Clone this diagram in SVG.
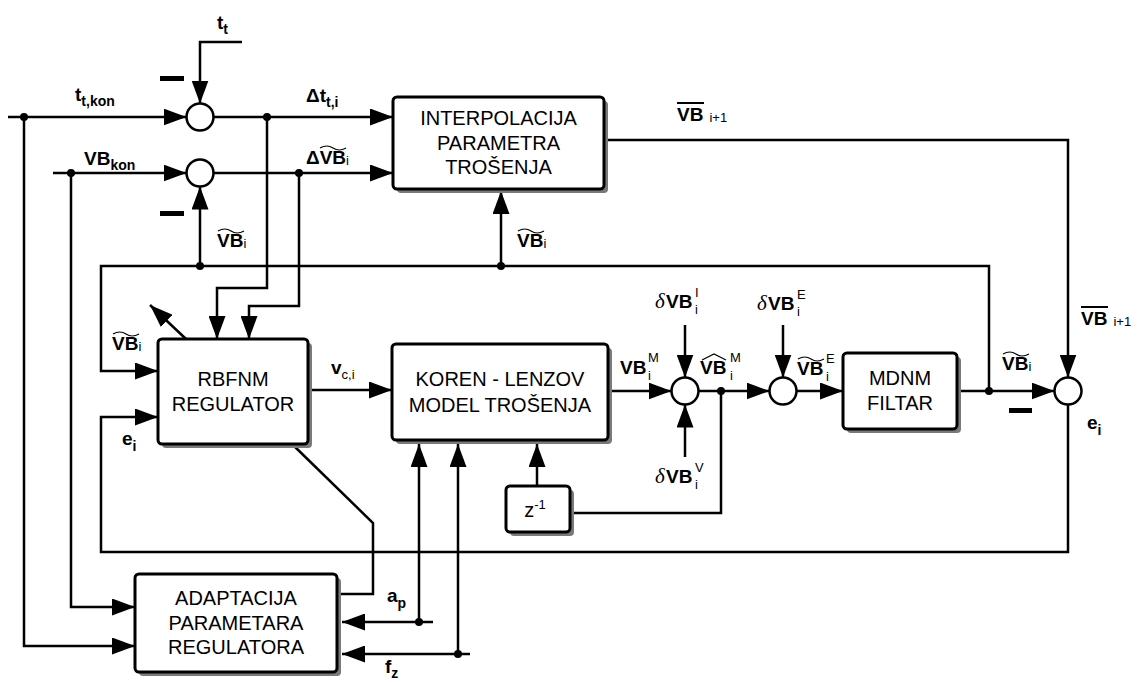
<svg xmlns="http://www.w3.org/2000/svg" width="1141" height="684" viewBox="0 0 1141 684">
<style>
.ln{fill:none;stroke:#000;stroke-width:2.5}
.ar{marker-end:url(#ah)}
.box{fill:#fff;stroke:#000;stroke-width:3}
.sh{fill:#7a7a7a}
.bt{font-family:"Liberation Sans",Arial,sans-serif;font-size:20px;text-anchor:middle;fill:#000}
.lb{font-family:"Liberation Sans",Arial,sans-serif;font-weight:bold;font-size:19px;fill:#000}
.sm{font-family:"Liberation Sans",Arial,sans-serif;font-size:13px;font-weight:normal;fill:#000}
.sb{font-family:"Liberation Sans",Arial,sans-serif;font-size:14px;font-weight:bold;fill:#000}
.acc{fill:none;stroke:#000;stroke-width:1.2}
.dl{font-family:"Liberation Serif","Times New Roman",serif;font-style:italic;font-size:21px;fill:#000}
.dot{fill:#000}
.sum{fill:#fff;stroke:#000;stroke-width:2.5}
</style>
<defs>
<marker id="ah" markerUnits="userSpaceOnUse" markerWidth="23" markerHeight="17" refX="23" refY="8.5" orient="auto"><path d="M0,0 L23,8.5 L0,17 z" fill="#000"/></marker>
</defs>
<rect width="1141" height="684" fill="#fff"/>

<g id="connectors">
<path class="ln ar" d="M242,42 H200 V103.5"/>
<path class="ln ar" d="M8,117 H186.5"/>
<path class="ln ar" d="M213.5,117 H393"/>
<path class="ln ar" d="M53,173 H186.5"/>
<path class="ln ar" d="M213.5,173 H393"/>
<path class="ln ar" d="M200,266 V186.5"/>
<path class="ln ar" d="M604,140 H1068 V377.5"/>
<path class="ln ar" d="M989,391 V266 H101 V371 H158"/>
<path class="ln ar" d="M501,266 V191"/>
<path class="ln ar" d="M267,117 V288 H217 V339"/>
<path class="ln ar" d="M299,173 V306 H249 V339"/>
<path class="ln ar" d="M186,339 L150,305"/>
<path class="ln ar" d="M1068,404.5 V552 H101 V417 H158"/>
<path class="ln ar" d="M24,117 V646 H135"/>
<path class="ln ar" d="M71,173 V607 H135"/>
<path class="ln ar" d="M312,390 H392"/>
<path class="ln ar" d="M612,391 H671.5"/>
<path class="ln ar" d="M685,325 V377.5"/>
<path class="ln ar" d="M685,457 V404.5"/>
<path class="ln ar" d="M698.5,391 H769.5"/>
<path class="ln ar" d="M783,325 V377.5"/>
<path class="ln ar" d="M796.5,391 H843"/>
<path class="ln ar" d="M961,391 H1054.5"/>
<path class="ln" d="M721,391 V513 H574"/>
<path class="ln ar" d="M537,486 V444"/>
<path class="ln" d="M292,444 L373,523 V594 H341"/>
<path class="ln ar" d="M433,622 H342"/>
<path class="ln ar" d="M419,622 V444"/>
<path class="ln ar" d="M470,654 H342"/>
<path class="ln ar" d="M458,654 V444"/>
<circle class="dot" cx="24" cy="117" r="4"/>
<circle class="dot" cx="267" cy="117" r="4"/>
<circle class="dot" cx="71" cy="173" r="4"/>
<circle class="dot" cx="299" cy="173" r="4"/>
<circle class="dot" cx="200" cy="266" r="4"/>
<circle class="dot" cx="501" cy="266" r="4"/>
<circle class="dot" cx="721" cy="391" r="4"/>
<circle class="dot" cx="989" cy="391" r="4"/>
<circle class="dot" cx="419" cy="622" r="4"/>
<circle class="dot" cx="458" cy="654" r="4"/>
</g>

<g id="sum1"><circle class="sum" cx="200" cy="117" r="13.5"/></g>
<g id="sum2"><circle class="sum" cx="200" cy="173" r="13.5"/></g>
<g id="sum3"><circle class="sum" cx="685" cy="391" r="13.5"/></g>
<g id="sum4"><circle class="sum" cx="783" cy="391" r="13.5"/></g>
<g id="sum5"><circle class="sum" cx="1068" cy="391" r="13.5"/></g>

<g id="minus">
<rect x="160" y="76" width="24" height="5"/>
<rect x="160" y="211" width="24" height="5"/>
<rect x="1009" y="408" width="23" height="5"/>
</g>

<g id="interpolacija">
<rect class="sh" x="397" y="101" width="211" height="92" rx="4"/>
<rect class="box" x="393" y="97" width="211" height="92" rx="4"/>
<text class="bt" x="498.5" y="125">INTERPOLACIJA</text>
<text class="bt" x="498.5" y="150">PARAMETRA</text>
<text class="bt" x="498.5" y="174">TROŠENJA</text>
</g>
<g id="rbfnm">
<rect class="sh" x="162" y="343" width="150" height="105" rx="4"/>
<rect class="box" x="158" y="339" width="150" height="105" rx="4"/>
<text class="bt" x="233" y="386">RBFNM</text>
<text class="bt" x="233" y="411">REGULATOR</text>
</g>
<g id="koren">
<rect class="sh" x="396" y="348" width="216" height="96" rx="4"/>
<rect class="box" x="392" y="344" width="216" height="96" rx="4"/>
<text class="bt" x="500" y="386">KOREN - LENZOV</text>
<text class="bt" x="500" y="412">MODEL TROŠENJA</text>
</g>
<g id="mdnm">
<rect class="sh" x="847" y="357" width="114" height="76" rx="4"/>
<rect class="box" x="843" y="353" width="114" height="76" rx="4"/>
<text class="bt" x="900" y="385">MDNM</text>
<text class="bt" x="900" y="410">FILTAR</text>
</g>
<g id="zinv">
<rect class="sh" x="510" y="490" width="64" height="46" rx="4"/>
<rect class="box" x="506" y="486" width="64" height="46" rx="4"/>
<text class="bt" x="535" y="517">z<tspan font-size="13" dy="-8">-1</tspan></text>
</g>
<g id="adaptacija">
<rect class="sh" x="139" y="578" width="202" height="98" rx="4"/>
<rect class="box" x="135" y="574" width="202" height="98" rx="4"/>
<text class="bt" x="236" y="605">ADAPTACIJA</text>
<text class="bt" x="236" y="630">PARAMETARA</text>
<text class="bt" x="236" y="654">REGULATORA</text>
</g>

<g id="labels">
<text class="lb" x="217" y="29">t<tspan class="sb" dy="5">t</tspan></text>
<text class="lb" x="75" y="101">t<tspan class="sb" dy="5">t,kon</tspan></text>
<text class="lb" x="306" y="102">Δt<tspan class="sb" dy="5">t,i</tspan></text>
<text class="lb" x="84" y="165" font-size="21">VB<tspan class="sb" dy="5">kon</tspan></text>
<text class="lb" x="306" y="164">ΔVB<tspan class="sm" dy="1">i</tspan></text>
<path class="acc" d="M320,148 q7,-4 13,0 t13,0"/>
<text class="lb" x="217" y="247">VB<tspan class="sm" dy="1">i</tspan></text>
<path class="acc" d="M218,231 q7,-4 13,0 t13,0"/>
<text class="lb" x="517" y="247">VB<tspan class="sm" dy="1">i</tspan></text>
<path class="acc" d="M518,231 q7,-4 13,0 t13,0"/>
<text class="lb" x="112" y="350">VB<tspan class="sm" dy="1">i</tspan></text>
<path class="acc" d="M113,334 q7,-4 13,0 t13,0"/>
<text class="lb" x="1002" y="370">VB<tspan class="sm" dy="1">i</tspan></text>
<path class="acc" d="M1003,354 q7,-4 13,0 t13,0"/>
<text class="lb" x="677" y="121">VB<tspan class="sm" dx="6" dy="1">i+1</tspan></text>
<line x1="677" y1="103" x2="704" y2="103" stroke="#000" stroke-width="2"/>
<text class="lb" x="1081" y="325">VB<tspan class="sm" dx="6" dy="1">i+1</tspan></text>
<line x1="1081" y1="307" x2="1108" y2="307" stroke="#000" stroke-width="2"/>
<text class="lb" x="331" y="374">v<tspan class="sm" dy="5">c,i</tspan></text>
<text class="lb" x="620" y="374">VB</text>
<text class="sm" x="648" y="362">M</text>
<text class="sm" x="648" y="380">i</text>
<text class="lb" x="700" y="374">VB</text>
<path class="acc" d="M702,360 L714,354 L726,360"/>
<text class="sm" x="730" y="362">M</text>
<text class="sm" x="730" y="380">i</text>
<text class="lb" x="797" y="375">VB</text>
<path class="acc" d="M798,359 q7,-4 13,0 t13,0"/>
<text class="sm" x="826" y="363">E</text>
<text class="sm" x="826" y="381">i</text>
<text class="dl" x="655" y="308">δ</text>
<text class="lb" x="666" y="308">VB</text>
<text class="sm" x="695" y="297">I</text>
<text class="sm" x="695" y="314">i</text>
<text class="dl" x="757" y="310">δ</text>
<text class="lb" x="768" y="310">VB</text>
<text class="sm" x="797" y="299">E</text>
<text class="sm" x="797" y="316">i</text>
<text class="dl" x="655" y="483">δ</text>
<text class="lb" x="666" y="483">VB</text>
<text class="sm" x="695" y="472">V</text>
<text class="sm" x="695" y="489">i</text>
<text class="lb" x="1087" y="429">e<tspan class="sb" dy="6">i</tspan></text>
<text class="lb" x="122" y="445">e<tspan class="sb" dy="6">i</tspan></text>
<text class="lb" x="387" y="602">a<tspan class="sb" dy="6">p</tspan></text>
<text class="lb" x="385" y="673">f<tspan class="sb" dy="5">z</tspan></text>
</g>
</svg>
